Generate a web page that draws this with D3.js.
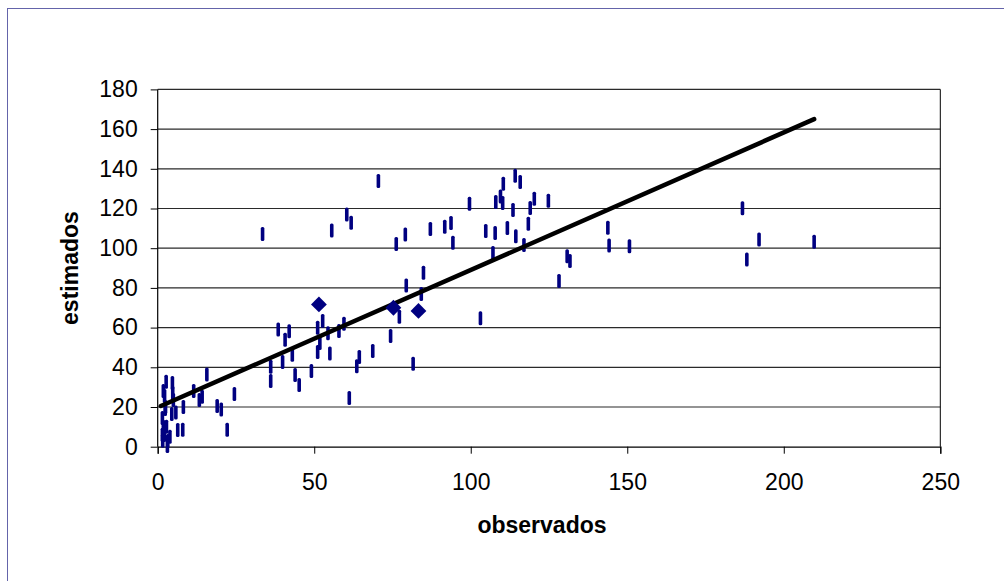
<!DOCTYPE html>
<html>
<head>
<meta charset="utf-8">
<title>observados vs estimados</title>
<script src="https://cdn.jsdelivr.net/npm/d3@7"></script>
<style>
    html, body { margin: 0; padding: 0; background: #fff; }
    svg { display: block; font-family: "Liberation Sans", Arial, sans-serif; }
</style>
</head>
<body>
<div id="chart"></div>
<script>
var obsX = [33.5, 55.6, 60.4, 61.8, 70.5, 76.2, 79.1, 87.1, 91.7, 93.7, 94.3, 99.6, 104.8, 107.8, 107.1,
    108, 109.5, 110.2, 110.4, 114.2, 115.8, 111.7, 113.5, 114.4, 117, 118.4, 119, 120.3, 124.8, 130.8,
    131.7, 128.2, 103.1, 84.9, 79.4, 84.2, 77.2, 74.4, 81.6, 68.7, 64.4, 63.6, 61.2, 59.5, 57.9, 55,
    54.4, 143.8, 144.2, 150.7, 186.8, 192.1, 188.2, 209.7,
    38.5, 42, 40.7, 36.1, 36.1, 39.9, 43, 43.9, 45.2, 49.1, 51.1, 51.1, 51.8, 52.7,
    15.7, 4.7, 2.7, 2.2, 5, 11.5, 13.3, 14.2, 8.2, 19, 20.3, 24.5, 22.2, 8, 6.4, 4.5, 5.8, 1.5, 1.5,
    2.1, 3.2, 3.1, 3.9, 2.5, 1.8, 4.8, 1.8, 2.4, 1.6, 2.8];
var estY = [107.1, 108.9, 117, 112.8, 133.9, 102.1, 106.9, 109.7, 110.8, 112.7, 102.7, 122.4, 108.7, 107.7, 97.6,
    123.3, 126.1, 122.8, 132.5, 136.5, 133.3, 110.2, 119.2, 106, 101.6, 112.3, 120.2, 124.9, 123.9, 95.9,
    93.5, 83.5, 64.7, 87.6, 81.2, 76.9, 65.5, 55.8, 41.8, 48.2, 45.2, 40.5, 24.5, 61.9, 58.3, 47,
    57.1, 110.3, 101.4, 101, 120.1, 104.4, 94.3, 103.2,
    59, 58.2, 53.9, 40.3, 33.1, 42.7, 46.3, 36.1, 31.1, 38.1, 59.9, 47.7, 52.2, 63.3,
    36.4, 32.1, 32.7, 25.6, 23.5, 28, 23.5, 25.2, 20, 20.5, 18.7, 26.5, 8.6, 8.6, 8.4, 16.5, 17.2, 14.5, 6,
    5.9, 2.9, 0.3, 5, 20, 10, 27, 28, 19, 3, 10];

// highlighted points (diamonds)
var markX = [51.5, 75.3, 83.3];
var markY = [71.7, 70, 68.4];

// fitted line endpoints
var fitX = [1, 209.7];
var fitY = [20.5, 165];

var xTicks = [0, 50, 100, 150, 200, 250];
var yTicks = [0, 20, 40, 60, 80, 100, 120, 140, 160, 180];

var W = 1004, H = 581;
var plotLeft = 157.7, plotRight = 940.3, plotTop = 89.4, plotBottom = 446.7;

var svg = d3.select("#chart").append("svg")
    .attr("width", W)
    .attr("height", H);

// chart frame
svg.append("rect")
    .attr("x", 7.5).attr("y", 8.5)
    .attr("width", 1010).attr("height", 590)
    .attr("fill", "#fff")
    .attr("stroke", "#6464aa")
    .attr("stroke-width", 1);

var x = d3.scaleLinear().domain([0, 250]).range([plotLeft, plotRight]);
var y = d3.scaleLinear().domain([0, 180]).range([plotBottom, plotTop]);

// gridlines
svg.append("g")
    .selectAll("line")
    .data(yTicks.slice(1))
    .enter().append("line")
    .attr("x1", plotLeft).attr("x2", plotRight)
    .attr("y1", function (d) { return y(d); })
    .attr("y2", function (d) { return y(d); })
    .attr("stroke", "#2a2a2a")
    .attr("stroke-width", 1.2);

// right border of plot area
svg.append("line")
    .attr("x1", plotRight).attr("x2", plotRight)
    .attr("y1", plotTop).attr("y2", plotBottom)
    .attr("stroke", "#000").attr("stroke-width", 1);

// axes
var xAxis = svg.append("g")
    .attr("transform", "translate(0," + plotBottom + ")")
    .call(d3.axisBottom(x).tickValues(xTicks).tickSize(7).tickPadding(20));
var yAxis = svg.append("g")
    .attr("transform", "translate(" + plotLeft + ",0)")
    .call(d3.axisLeft(y).tickValues(yTicks).tickSize(7).tickPadding(13));

[xAxis, yAxis].forEach(function (a) {
    a.select(".domain").attr("stroke", "#000").attr("stroke-width", 1.2);
    a.selectAll(".tick line").attr("stroke", "#000");
    a.selectAll("text")
        .attr("fill", "#000")
        .style("font-size", "23px")
        .style("font-family", "'Liberation Sans', Arial, sans-serif");
});
yAxis.select(".domain").attr("d", "M0," + plotBottom + "V" + plotTop);

// points drawn as short vertical dashes
var pts = obsX.map(function (d, i) { return [d, estY[i]]; });
svg.append("g")
    .selectAll("rect")
    .data(pts)
    .enter().append("rect")
    .attr("x", function (d) { return x(d[0]) - 1.8; })
    .attr("y", function (d) { return y(d[1]) - 7; })
    .attr("width", 3.6)
    .attr("height", 14)
    .attr("rx", 1.5)
    .attr("fill", "#000080");

// fitted line
svg.append("path")
    .datum(fitX.map(function (d, i) { return [d, fitY[i]]; }))
    .attr("d", d3.line()
        .x(function (d) { return x(d[0]); })
        .y(function (d) { return y(d[1]); }))
    .attr("fill", "none")
    .attr("stroke", "#000")
    .attr("stroke-width", 4.5)
    .attr("stroke-linecap", "round");

// diamonds
svg.append("g")
    .selectAll("path")
    .data(markX.map(function (d, i) { return [d, markY[i]]; }))
    .enter().append("path")
    .attr("d", d3.symbol().type(d3.symbolSquare).size(125))
    .attr("transform", function (d) {
        return "translate(" + x(d[0]) + "," + y(d[1]) + ") rotate(45)";
    })
    .attr("fill", "#000080");

// axis titles
svg.append("text")
    .attr("x", 542)
    .attr("y", 533)
    .attr("text-anchor", "middle")
    .style("font-size", "23px")
    .style("font-weight", "bold")
    .text("observados");

svg.append("text")
    .attr("transform", "translate(78," + ((plotTop + plotBottom) / 2) + ") rotate(-90)")
    .attr("text-anchor", "middle")
    .style("font-size", "23px")
    .style("font-weight", "bold")
    .text("estimados");
</script>
</body>
</html>
